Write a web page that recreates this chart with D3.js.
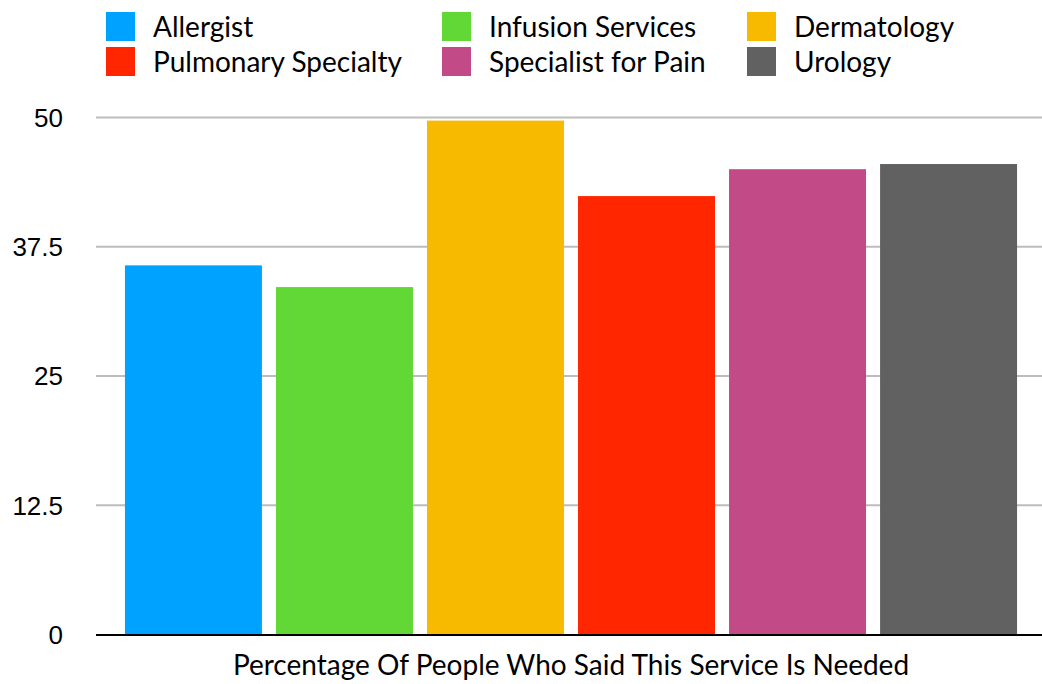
<!DOCTYPE html>
<meta charset="utf-8">
<style>
    body { margin: 0; background: #fff; }
    .grid line { stroke: #bdbdbd; stroke-width: 2px; }
    .tick-label { font-family: "Liberation Sans", Arial, sans-serif; font-size: 26px; fill: #000; }
    .legend text, .axis-title { font-family: Lato, "Noto Sans", sans-serif; font-size: 28px; fill: #000; }
</style>
<svg width="1042" height="684"></svg>
<script src="https://d3js.org/d3.v7.min.js"></script>
<script>
    var categories = ["Allergist", "Infusion Services", "Dermatology", "Pulmonary Specialty", "Specialist for Pain", "Urology"];
    var values = [35.7, 33.6, 49.7, 42.4, 45.0, 45.5];
    var colors = ["#00a2ff", "#61d836", "#f8ba00", "#ff2600", "#c24a86", "#616161"];
    var ticks = [0, 12.5, 25, 37.5, 50];
    var xTitle = "Percentage Of People Who Said This Service Is Needed";

    var svg = d3.select("svg"),
        width = +svg.attr("width"),
        height = +svg.attr("height");

    var y = d3.scaleLinear().domain([0, 50]).range([634.5, 117.5]);

    var x = d3.scaleBand()
        .domain(categories)
        .range([118, 1024])
        .paddingInner(0.093)
        .paddingOuter(0.046);

    // gridlines
    svg.append("g")
        .attr("class", "grid")
        .selectAll("line")
        .data(ticks.filter(function(d) { return d > 0; }))
        .enter().append("line")
        .attr("x1", 96)
        .attr("x2", width)
        .attr("y1", function(d) { return y(d); })
        .attr("y2", function(d) { return y(d); });

    svg.append("g")
        .selectAll("text")
        .data(ticks)
        .enter().append("text")
        .attr("class", "tick-label")
        .attr("x", 63)
        .attr("y", function(d) { return y(d); })
        .attr("dy", "0.36em")
        .attr("text-anchor", "end")
        .text(function(d) { return d; });

    // bars
    svg.append("g")
        .selectAll("rect")
        .data(values)
        .enter().append("rect")
        .attr("x", function(d, i) { return x(categories[i]); })
        .attr("width", x.bandwidth())
        .attr("y", function(d) { return y(d); })
        .attr("height", function(d) { return y(0) - y(d); })
        .attr("fill", function(d, i) { return colors[i]; });

    // baseline
    svg.append("line")
        .attr("x1", 96)
        .attr("x2", width)
        .attr("y1", y(0) + 0.5)
        .attr("y2", y(0) + 0.5)
        .attr("stroke", "#000")
        .attr("stroke-width", 2);

    svg.append("text")
        .attr("class", "axis-title")
        .attr("x", 571)
        .attr("y", 675)
        .attr("text-anchor", "middle")
        .text(xTitle);

    // legend: 3 columns, 2 rows, ordered row by row
    var legendCols = [106, 442, 747];
    var legendRows = [12, 47];
    var legend = svg.append("g")
        .attr("class", "legend")
        .selectAll("g")
        .data(categories)
        .enter().append("g")
        .attr("transform", function(d, i) {
            return "translate(" + legendCols[i % 3] + "," + legendRows[Math.floor(i / 3)] + ")";
        });

    legend.append("rect")
        .attr("width", 29)
        .attr("height", 29)
        .attr("fill", function(d, i) { return colors[i]; });

    legend.append("text")
        .attr("x", 47)
        .attr("y", 25)
        .text(function(d) { return d; });
</script>
